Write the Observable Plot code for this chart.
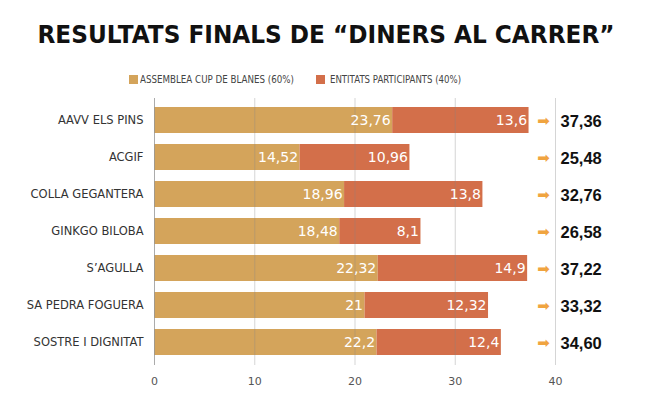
<!DOCTYPE html>
<html>
<head>
<meta charset="utf-8">
<script src="https://cdn.jsdelivr.net/npm/d3@7"></script>
<script src="https://cdn.jsdelivr.net/npm/@observablehq/plot@0.6"></script>
<style>
  body { margin: 0; background: #fff; width: 652px; height: 396px; overflow: hidden; font-family: "DejaVu Sans", sans-serif; }
  #title { height: 66px; position: relative; }
  #title span { position: absolute; left: 50%; top: 22px; transform-origin: center top; white-space: nowrap;
    font: bold 25px "DejaVu Sans", sans-serif; color: #111; line-height: 1; }
  #legend { height: 26px; position: relative; font-size: 11px; color: #444; font-family: "DejaVu Sans", sans-serif; }
  .sw { position: absolute; top: 9px; width: 9px; height: 9px; }
  .lt { position: absolute; top: 7px; white-space: nowrap; line-height: 1.2; transform-origin: left top; }
</style>
</head>
<body>
<div id="title"><span id="tt">RESULTATS FINALS DE “DINERS AL CARRER”</span></div>
<div id="legend"></div>
<div id="chart"></div>
<script>
const categories = ["AAVV ELS PINS", "ACGIF", "COLLA GEGANTERA", "GINKGO BILOBA", "S’AGULLA", "SA PEDRA FOGUERA", "SOSTRE I DIGNITAT"];
const seriesNames = ["ASSEMBLEA CUP DE BLANES (60%)", "ENTITATS PARTICIPANTS (40%)"];
const assemblea = [23.76, 14.52, 18.96, 18.48, 22.32, 21, 22.2];
const entitats = [13.6, 10.96, 13.8, 8.1, 14.9, 12.32, 12.4];
const xTicks = [0, 10, 20, 30, 40];
const colors = ["#D4A45B", "#D36F4A"];

const fmt = v => String(v).replace(".", ",");
const rows = [];
categories.forEach((c, i) => {
  rows.push({cat: c, series: seriesNames[0], value: assemblea[i]});
  rows.push({cat: c, series: seriesNames[1], value: entitats[i]});
});
const totals = categories.map((c, i) => ({cat: c, total: (assemblea[i] + entitats[i]).toFixed(2).replace(".", ",")}));

// title fit
const tt = document.getElementById("tt");
const w = tt.getBoundingClientRect().width;
tt.style.transform = `translateX(-50%) scaleX(${577 / w})`;

// legend
const legend = document.getElementById("legend");
const lpos = [[129, 140, 154], [316, 330, 131]];
seriesNames.forEach((n, i) => {
  const sw = document.createElement("div");
  sw.className = "sw"; sw.style.left = lpos[i][0] + "px"; sw.style.background = colors[i];
  const t = document.createElement("div");
  t.className = "lt"; t.style.left = lpos[i][1] + "px"; t.textContent = n;
  legend.appendChild(sw); legend.appendChild(t);
  const tw = t.getBoundingClientRect().width;
  t.style.transform = `scaleX(${lpos[i][2] / tw})`;
});

const chart = Plot.plot({
  width: 652,
  height: 304,
  marginTop: 6,
  marginBottom: 31,
  marginLeft: 154,
  marginRight: 97,
  style: {fontFamily: "DejaVu Sans, sans-serif", background: "transparent"},
  x: {domain: [0, 40], ticks: xTicks, label: null},
  y: {domain: categories, label: null, paddingInner: 0.29, paddingOuter: 0.17},
  color: {domain: seriesNames, range: colors},
  marks: [
    Plot.barX(rows, Plot.stackX({x: "value", y: "cat", fill: "series"})),
    Plot.gridX(xTicks, {stroke: "#888", strokeOpacity: 0.35, strokeWidth: 1}),
    Plot.ruleX([0], {stroke: "#999", strokeOpacity: 0.7}),
    Plot.textX(rows, Plot.stackX2({x: "value", y: "cat", z: "series", text: d => fmt(d.value), textAnchor: "end", dx: -2, fill: "white", fontSize: 14})),
    Plot.text(totals, {y: "cat", frameAnchor: "right", text: () => "➡", fill: "#F0A440", fontSize: 15, dx: -12, dy: 1, textAnchor: "middle"}),
    Plot.text(totals, {y: "cat", frameAnchor: "right", text: "total", fill: "#111", fontSize: 16.5, fontWeight: "bold", fontFamily: "Liberation Sans, Arial, sans-serif", dx: 5, dy: 1, textAnchor: "start"}),
    Plot.axisX({ticks: xTicks, tickSize: 0, tickPadding: 12, fontSize: 11, fill: "#555", label: null}),
    Plot.axisY({tickSize: 0, tickPadding: 11, fontSize: 11.5, fill: "#333", label: null})
  ]
});
document.getElementById("chart").appendChild(chart);
</script>
</body>
</html>
